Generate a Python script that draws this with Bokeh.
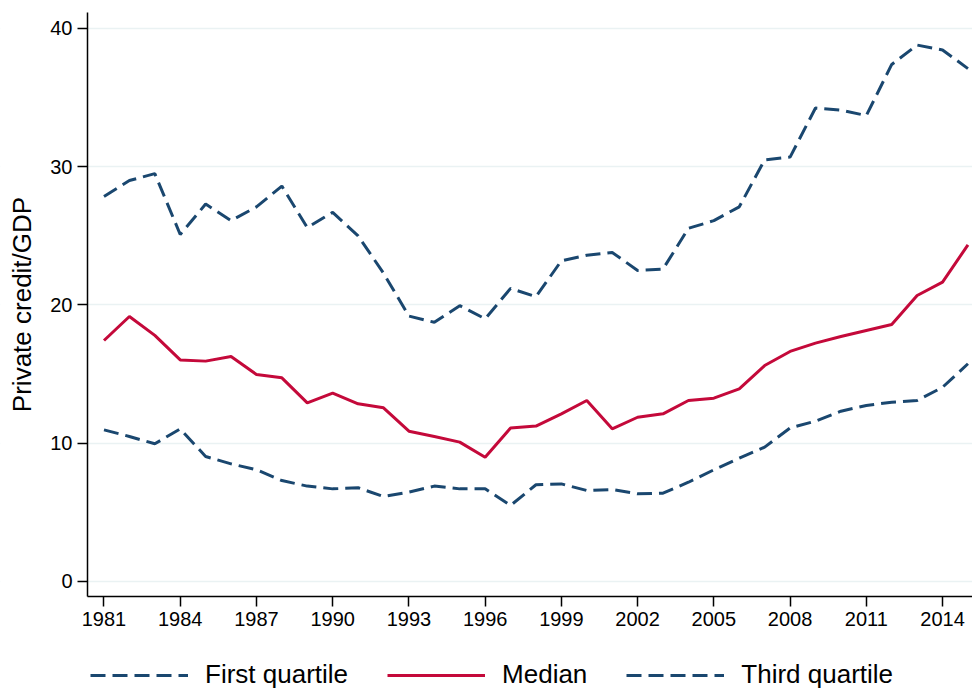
from bokeh.plotting import figure
from bokeh.models import Range1d, FixedTicker, Legend, LegendItem, BoxAnnotation
from bokeh.embed import file_html
from bokeh.resources import INLINE

years = list(range(1981, 2016))

first_quartile = [10.97, 10.49, 9.96, 11.04, 9.04, 8.51, 8.08, 7.30, 6.90, 6.70,
                  6.78, 6.15, 6.46, 6.90, 6.70, 6.70, 5.50, 7.00, 7.06, 6.58,
                  6.65, 6.34, 6.39, 7.18, 8.08, 8.92, 9.72, 11.10, 11.60, 12.32,
                  12.73, 12.97, 13.09, 14.05, 15.75]

median = [17.43, 19.17, 17.80, 16.03, 15.94, 16.27, 14.97, 14.73, 12.92, 13.62,
          12.85, 12.56, 10.87, 10.49, 10.08, 8.99, 11.10, 11.24, 12.13, 13.09,
          11.04, 11.88, 12.13, 13.09, 13.26, 13.93, 15.62, 16.64, 17.24, 17.72,
          18.16, 18.59, 20.69, 21.65, 24.35]

third_quartile = [27.85, 29.00, 29.50, 25.10, 27.30, 26.10, 27.10, 28.60, 25.60, 26.70,
                  25.00, 22.30, 19.20, 18.75, 19.95, 19.00, 21.20, 20.60, 23.20, 23.60,
                  23.80, 22.50, 22.60, 25.55, 26.10, 27.10, 30.50, 30.70, 34.25, 34.10,
                  33.70, 37.40, 38.80, 38.45, 37.10]

x_ticks = list(range(1981, 2015, 3))
y_ticks = [0, 10, 20, 30, 40]
series_names = ["First quartile", "Median", "Third quartile"]

NAVY = "#1a476f"
RED = "#c4093a"
FONT = "Liberation Sans"

# drawing area covers the whole canvas; axes are pinned inside it
X_START, X_AXIS, X_END = 1976.927, 1980.351, 2015.179
Y_BOTTOM, Y_AXIS, Y_AXIS_TOP, Y_TOP = -7.957, -1.085, 41.157, 42.025

p = figure(width=972, height=691, output_backend="svg", toolbar_location=None,
           x_range=Range1d(X_START, X_END), y_range=Range1d(Y_BOTTOM, Y_TOP),
           min_border=0)
p.outline_line_color = None
p.background_fill_color = "white"
p.border_fill_color = "white"

p.xgrid.grid_line_color = None
p.ygrid.grid_line_color = "#eaf2f3"
p.ygrid.grid_line_width = 1.5

# keep grid lines to the right of the y axis (outer margin stays blank)
p.add_layout(BoxAnnotation(right=X_AXIS, fill_color="white", fill_alpha=1,
                           line_color=None, level="underlay"))

r1 = p.line(years, first_quartile, line_color=NAVY, line_width=3, line_dash="15 7")
r2 = p.line(years, median, line_color=RED, line_width=3)
r3 = p.line(years, third_quartile, line_color=NAVY, line_width=3, line_dash="15 7")

# axes
p.xaxis.ticker = FixedTicker(ticks=x_ticks)
p.yaxis.ticker = FixedTicker(ticks=y_ticks)
for ax in (p.xaxis[0], p.yaxis[0]):
    ax.axis_line_color = "black"
    ax.axis_line_width = 1.5
    ax.major_tick_line_color = "black"
    ax.major_tick_line_width = 1.5
    ax.major_tick_in = 0
    ax.major_tick_out = 10
    ax.minor_tick_line_color = None
    ax.major_label_text_font = FONT
    ax.major_label_text_font_size = "20px"
    ax.major_label_text_color = "black"
p.xaxis.fixed_location = Y_AXIS
p.xaxis.bounds = (X_AXIS, X_END)
p.yaxis.fixed_location = X_AXIS
p.yaxis.bounds = (Y_AXIS, Y_AXIS_TOP)
p.xaxis.major_label_standoff = 6
p.yaxis.major_label_standoff = 5
p.yaxis.major_label_orientation = "horizontal"
p.yaxis.axis_label = "Private credit/GDP"
p.yaxis.axis_label_text_font = FONT
p.yaxis.axis_label_text_font_size = "26px"
p.yaxis.axis_label_text_font_style = "normal"
p.yaxis.axis_label_text_color = "black"
p.yaxis.axis_label_standoff = 10

legend = Legend(items=[LegendItem(label=series_names[0], renderers=[r1]),
                       LegendItem(label=series_names[1], renderers=[r2]),
                       LegendItem(label=series_names[2], renderers=[r3])],
                orientation="horizontal", location=(90, 1),
                padding=0, margin=0, spacing=39,
                glyph_width=98, glyph_height=26, label_height=26,
                label_standoff=17,
                label_text_font=FONT, label_text_font_size="26px",
                label_text_color="black",
                border_line_color=None, background_fill_alpha=0)
p.add_layout(legend, "center")

open("out.html", "w").write(file_html(p, INLINE))
